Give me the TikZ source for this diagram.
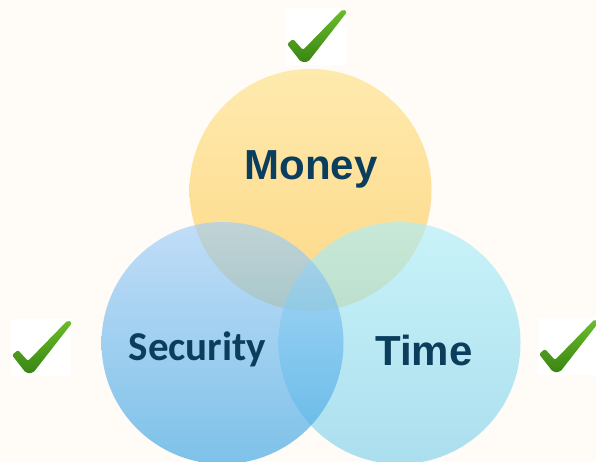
\documentclass[tikz,border=0pt]{standalone}
\usepackage{fontspec}
\newfontfamily\arialfont{Liberation Sans}
\newfontfamily\calibrifont{Carlito}
\definecolor{bgcream}{HTML}{FFFBF6}
\definecolor{moneytop}{HTML}{FEEAAE}
\definecolor{moneybot}{HTML}{FDD886}
\definecolor{sectop}{HTML}{A1CEF9}
\definecolor{secbot}{HTML}{39A3E2}
\definecolor{timetop}{HTML}{ACEFFA}
\definecolor{timebot}{HTML}{7FD0EB}
\definecolor{labelblue}{HTML}{0B3D5C}
\definecolor{ticklight}{HTML}{6CBC2C}
\definecolor{tickdark}{HTML}{3A8614}
\begin{document}
\begin{tikzpicture}[x=1pt, y=-1pt,
    every node/.style = {inner sep=0pt, outer sep=0pt},
    ring/.style = {circle, minimum size=242pt},
    tag/.style = {text=labelblue, anchor=base, font=\arialfont\bfseries\fontsize{42}{50}\selectfont},
    tick/.pic = {
        \fill[white] (-17,-54) rectangle (43,3);
        \shade[top color=ticklight, bottom color=tickdark, rounded corners=2pt]
            (-16,-18) -- (-10,-23) -- (0,-12) -- (40,-53) -- (44,-50) -- (5,0) -- (-2,0) -- cycle;
    }
    ]
    \clip (0,0) rectangle (596,462);
    \fill[bgcream] (0,0) rectangle (596,462);
    % circles
    \node[ring, top color=moneytop, bottom color=moneybot] (money) at (310.5,190) {};
    \node[ring, top color=timetop, bottom color=timebot, opacity=0.65] (time) at (399.5,343) {};
    \node[ring, top color=sectop, bottom color=secbot, opacity=0.65] (security) at (222.5,343) {};
    % labels
    \node[tag] (moneytext) at (311,180) {Money};
    \node[tag, font=\calibrifont\bfseries\fontsize{41}{50}\selectfont] (sectext) at (197.5,360) {Security};
    \node[tag] (timetext) at (424,365) {Time};
    % ticks
    \pic (tickmoney) at (303,62) {tick};
    \pic (ticksec) at (28,373) {tick};
    \pic (ticktime) at (555,372) {tick};
\end{tikzpicture}
\end{document}
